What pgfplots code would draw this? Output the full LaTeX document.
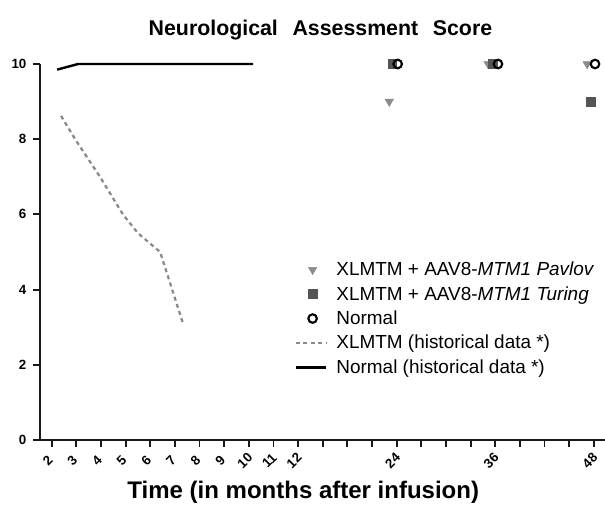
\documentclass[border=0pt]{standalone}
\usepackage{fontspec}
\setmainfont{Liberation Sans}
\usepackage{pgfplots}
\pgfplotsset{compat=1.18}
\definecolor{pavgray}{HTML}{8C8C8C}
\definecolor{turgray}{HTML}{555555}
\definecolor{dashgray}{HTML}{8A8A8A}
\pgfplotsset{
  markleg/.style={legend image code/.code={\path (0pt,0pt) (22.5pt,0pt); \draw[##1] plot coordinates {(12.5pt,0pt)};}},
  lineleg/.style={legend image code/.code={\draw[##1] (0pt,0pt) -- (22.5pt,0pt);}},
}
\begin{document}
\begin{tikzpicture}
\begin{axis}[
  name=ax,
  x=18.48pt, y=28.2pt,
  xmin=-0.475, xmax=22.45,
  ymin=0, ymax=10,
  clip=false,
  axis x line*=bottom, axis y line*=left,
  axis line style={line width=1.6pt, color=black!90},
  xtick align=outside, ytick align=outside,
  major tick length=5pt,
  every tick/.style={black!90, line width=1.4pt},
  every major tick/.style={black!90, line width=1.4pt},
  xtick={0,1,2,3,4,5,6,7,8,9,10,11,12,13,14,15,16,17,18,19,20,21,22},
  xticklabels={2,3,4,5,6,7,8,9,10,11,12,{},{},{},24,{},{},{},36,{},{},{},48},
  ytick={0,2,4,6,8,10},
  /pgf/number format/assume math mode=true,
  ticklabel style={font=\fontsize{10}{11}\selectfont\bfseries},
  xticklabel style={rotate=45, anchor=center, xshift=-9.55pt, yshift=-5.3pt},
  yticklabel style={inner sep=2pt, xshift=-3pt},
  every axis title shift=0pt,
  title={Neurological\hspace{11pt}Assessment\hspace{11pt}Score},
  title style={font=\fontsize{16}{19}\selectfont\bfseries, at={(axis description cs:0.4965,1.090)}, anchor=center},
  xlabel={Time (in months after infusion)},
  xlabel style={font=\fontsize{18}{21}\selectfont\bfseries, at={(axis description cs:0.466,-0.138)}, anchor=center},
  legend cell align=left,
  legend style={at={(axis cs:9.69,4.85)}, anchor=north west, draw=none, fill=none,
    font=\fontsize{14.2}{17}\selectfont, row sep=4.5pt,
    nodes={inner sep=1pt},
    /tikz/every odd column/.append style={column sep=6pt}},
]
\addplot[only marks, mark=triangle*, mark options={rotate=180, fill=pavgray, draw=pavgray}, mark size=3.6pt, markleg]
  coordinates {(13.70,9) (17.71,10) (21.73,10)};
\addlegendentry{XLMTM + AAV8-\textit{MTM1 Pavlov}}
\addplot[only marks, mark=square*, mark options={fill=turgray, draw=turgray}, mark size=3.3pt, markleg]
  coordinates {(13.82,10) (17.91,10) (21.89,9)};
\addlegendentry{XLMTM + AAV8-\textit{MTM1 Turing}}
\addplot[only marks, mark=o, mark options={draw=black, fill=white, line width=1.6pt}, mark size=3.2pt, markleg]
  coordinates {(14.04,10) (18.11,10) (22.05,10)};
\addlegendentry{Normal}
\addplot[dashgray, line width=1.7pt, dash pattern=on 3pt off 2.6pt, mark=none, lineleg]
  coordinates {(0.38,8.62) (0.95,8.0) (1.96,7.0) (2.89,6.0) (3.5,5.5) (4.40,5.0) (5.32,3.12)};
\addlegendentry{XLMTM (historical data *)}
\addplot[black, line width=1.8pt, mark=none, lineleg]
  coordinates {(0.22,9.85) (1.07,10) (8.17,10)};
\addlegendentry{Normal (historical data *)}
\end{axis}
\pgfresetboundingbox
\path[use as bounding box] ([xshift=-30pt,yshift=-53.25pt]ax.south west) rectangle ([xshift=423.75pt,yshift=330pt]ax.south west);
\end{tikzpicture}
\end{document}
